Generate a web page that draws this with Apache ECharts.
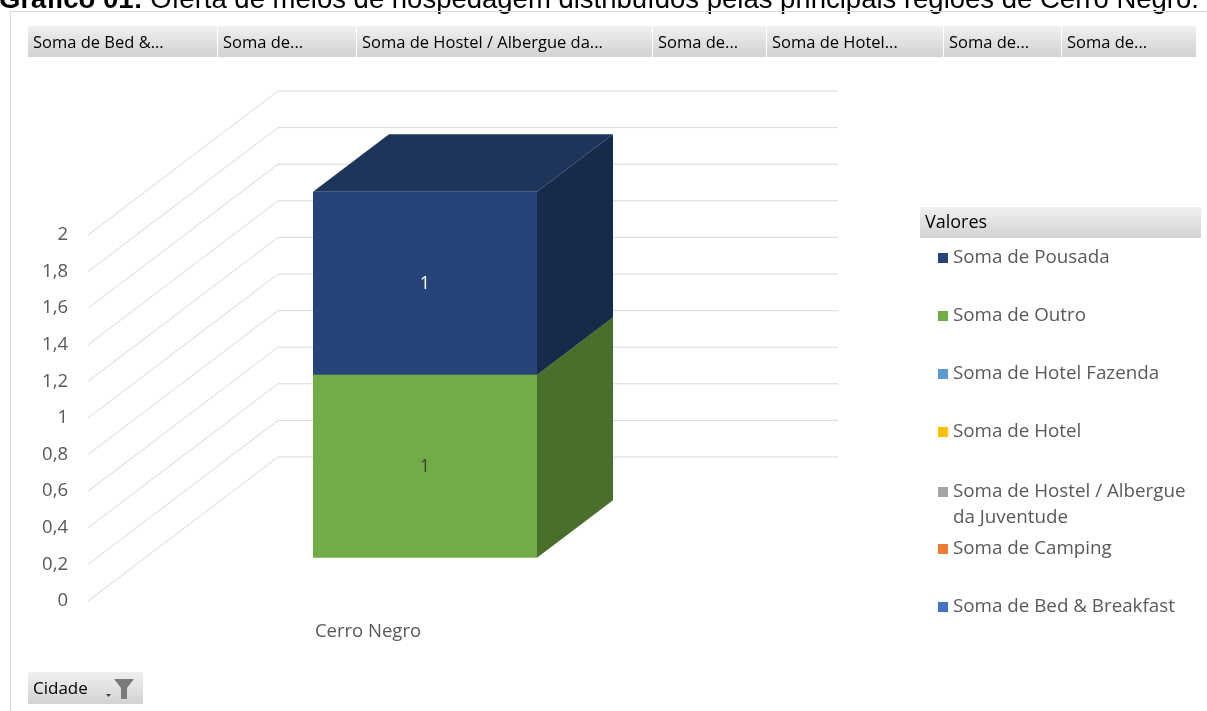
<!DOCTYPE html>
<html>
<head>
<meta charset="utf-8">
<title>Cerro Negro</title>
<script src="https://cdn.jsdelivr.net/npm/echarts@6/dist/echarts.min.js"></script>
<style>
  html, body { margin: 0; padding: 0; background: #fff; }
  #chart { width: 1207px; height: 711px; }
</style>
</head>
<body>
<div id="chart"></div>
<script>
// --- data ---
const categories = ['Cerro Negro']
const bedBreakfast = [null]
const camping = [null]
const hostel = [null]
const hotel = [null]
const hotelFazenda = [null]
const outro = [1]
const pousada = [1]
const yTicks = [0, 0.2, 0.4, 0.6, 0.8, 1, 1.2, 1.4, 1.6, 1.8, 2]
const fieldButtons = ['Soma de Bed &...', 'Soma de...', 'Soma de Hostel / Albergue da...', 'Soma de...', 'Soma de Hotel...', 'Soma de...', 'Soma de...']

const TITLE_BOLD = 'Gráfico 01:'
const TITLE_TEXT = ' Oferta de meios de hospedagem distribuídos pelas principais regiões de Cerro Negro.'

// series in stacking order (bottom first)
const seriesDefs = [
  { name: 'Soma de Bed & Breakfast', values: bedBreakfast, color: '#4472C4' },
  { name: 'Soma de Camping', values: camping, color: '#ED7D31' },
  { name: 'Soma de Hostel / Albergue da Juventude', values: hostel, color: '#A5A5A5' },
  { name: 'Soma de Hotel', values: hotel, color: '#FFC000' },
  { name: 'Soma de Hotel Fazenda', values: hotelFazenda, color: '#5B9BD5' },
  { name: 'Soma de Outro', values: outro, color: '#70AD47', top: '#5a8a39', side: '#4a6f2c', label: '#404040' },
  { name: 'Soma de Pousada', values: pousada, color: '#264478', top: '#1d345b', side: '#182a4a', label: '#ffffff' }
]

// fake 3d: depth vector from the label plane to the back wall
const DEPTH = [190, -144]
const BAR_FRONT = 0.3
const BAR_BACK = 0.7
const BAR_RATIO = 0.4

const FONT = "'Open Sans', 'Noto Sans', sans-serif"
const TEXT_GREY = '#595959'

const chart = echarts.init(document.getElementById('chart'))

const renderBar = (def) => (params, api) => {
  const val = api.value(1)
  if (!val) return null
  const cat = api.value(0)
  const base = api.value(2)
  const lo = api.coord([cat, base])
  const hi = api.coord([cat, base + val])
  const half = api.size([1, 0])[0] * BAR_RATIO / 2
  const f = [DEPTH[0] * BAR_FRONT, DEPTH[1] * BAR_FRONT]
  const b = [DEPTH[0] * BAR_BACK, DEPTH[1] * BAR_BACK]
  const xl = lo[0] - half
  const xr = lo[0] + half

  const front = [[xl + f[0], hi[1] + f[1]], [xr + f[0], hi[1] + f[1]], [xr + f[0], lo[1] + f[1]], [xl + f[0], lo[1] + f[1]]]
  const top = [[xl + f[0], hi[1] + f[1]], [xl + b[0], hi[1] + b[1]], [xr + b[0], hi[1] + b[1]], [xr + f[0], hi[1] + f[1]]]
  const side = [[xr + f[0], hi[1] + f[1]], [xr + b[0], hi[1] + b[1]], [xr + b[0], lo[1] + b[1]], [xr + f[0], lo[1] + f[1]]]

  return {
    type: 'group',
    children: [
      { type: 'polygon', shape: { points: side }, style: { fill: def.side || def.color } },
      { type: 'polygon', shape: { points: top }, style: { fill: def.top || def.color } },
      { type: 'polygon', shape: { points: front }, style: { fill: def.color } },
      {
        type: 'text',
        x: lo[0] + f[0],
        y: (lo[1] + hi[1]) / 2 + f[1] + 1,
        style: {
          text: String(val),
          fill: def.label || '#404040',
          font: '18px ' + FONT,
          align: 'center',
          verticalAlign: 'middle'
        }
      }
    ]
  }
}

// stack values by category
const stackBase = categories.map(() => 0)
const barSeries = seriesDefs.map(def => {
  const data = def.values.map((v, j) => {
    const base = stackBase[j]
    if (v) stackBase[j] += v
    return [j, v, base]
  })
  return {
    name: def.name,
    type: 'custom',
    renderItem: renderBar(def),
    itemStyle: { color: def.color },
    encode: { x: 0, y: 1 },
    data: data,
    z: 3
  }
})

const wallSeries = {
  name: 'wall',
  type: 'custom',
  silent: true,
  z: 1,
  encode: { x: 0, y: 1 },
  data: yTicks.map(v => [0, v]),
  renderItem: (params, api) => {
    const p = api.coord([0, api.value(1)])
    const cs = params.coordSys
    return {
      type: 'polyline',
      shape: {
        points: [
          [cs.x, p[1]],
          [cs.x + DEPTH[0], p[1] + DEPTH[1]],
          [cs.x + cs.width + DEPTH[0], p[1] + DEPTH[1]]
        ]
      },
      style: { stroke: '#d9d9d9', lineWidth: 1, fill: null }
    }
  }
}

const buttonGradient = () => new echarts.graphic.LinearGradient(0, 0, 0, 1, [
  { offset: 0, color: '#f0f0f0' },
  { offset: 1, color: '#d2d2d2' }
])

// field buttons across the top
const buttonEdges = [28, 218, 357, 653, 767, 944, 1062, 1197]
const buttonGraphics = []
fieldButtons.forEach((label, i) => {
  buttonGraphics.push({
    type: 'rect',
    shape: { x: buttonEdges[i], y: 26, width: buttonEdges[i + 1] - buttonEdges[i] - 1, height: 31 },
    style: { fill: buttonGradient() }
  })
  buttonGraphics.push({
    type: 'text',
    x: buttonEdges[i] + 5,
    y: 43,
    style: { text: label, font: '16.5px ' + FONT, fill: '#000', verticalAlign: 'middle' }
  })
})

const legendText = { color: TEXT_GREY, fontSize: 18.8, fontFamily: FONT, lineHeight: 20 }
const legendBase = {
  orient: 'vertical',
  left: 933,
  icon: 'rect',
  itemWidth: 10,
  itemHeight: 10,
  itemGap: 38,
  selectedMode: false,
  textStyle: legendText
}

const option = {
  animation: false,
  backgroundColor: '#fff',
  grid: { left: 88, right: 559, top: 235, bottom: 110 },
  xAxis: {
    type: 'category',
    data: categories,
    axisLine: { show: false },
    axisTick: { show: false },
    axisLabel: { color: TEXT_GREY, fontSize: 18.5, fontFamily: FONT, margin: 21 }
  },
  yAxis: {
    type: 'value',
    min: 0,
    max: 2,
    interval: 0.2,
    axisLine: { show: false },
    axisTick: { show: false },
    splitLine: { show: false },
    axisLabel: {
      color: TEXT_GREY,
      fontSize: 18.5,
      fontFamily: FONT,
      margin: 20,
      padding: [4, 0, 0, 0],
      formatter: v => String(Math.round(v * 10) / 10).replace('.', ',')
    }
  },
  legend: [
    Object.assign({}, legendBase, {
      top: 243,
      data: ['Soma de Pousada', 'Soma de Outro', 'Soma de Hotel Fazenda', 'Soma de Hotel']
    }),
    // blank first line keeps the marker level with the first line of text
    Object.assign({}, legendBase, {
      top: 448,
      data: ['Soma de Hostel / Albergue da Juventude'],
      formatter: () => ' \nSoma de Hostel / Albergue\nda Juventude',
      textStyle: Object.assign({}, legendText, { lineHeight: 26 })
    }),
    Object.assign({}, legendBase, {
      top: 534,
      data: ['Soma de Camping', 'Soma de Bed & Breakfast']
    })
  ],
  graphic: [
    {
      type: 'text',
      x: -1,
      y: 0,
      style: {
        text: '{b|' + TITLE_BOLD + '}' + TITLE_TEXT,
        font: "27.5px 'Liberation Sans', Arial, sans-serif",
        fill: '#000',
        verticalAlign: 'middle',
        rich: {
          b: { font: "bold 27.5px 'Liberation Sans', Arial, sans-serif", fill: '#000' }
        }
      }
    },
    { type: 'line', shape: { x1: 10.5, y1: 11, x2: 10.5, y2: 711 }, style: { stroke: '#d9d9d9', lineWidth: 1 } },
    { type: 'line', shape: { x1: 10, y1: 11.5, x2: 1207, y2: 11.5 }, style: { stroke: '#d9d9d9', lineWidth: 1 } },
    ...buttonGraphics,
    {
      type: 'rect',
      shape: { x: 920, y: 207, width: 281, height: 31 },
      style: { fill: buttonGradient() }
    },
    {
      type: 'text',
      x: 925,
      y: 223,
      style: { text: 'Valores', font: '18px ' + FONT, fill: '#000', verticalAlign: 'middle' }
    },
    {
      type: 'rect',
      shape: { x: 28, y: 672, width: 115, height: 32 },
      style: { fill: buttonGradient() }
    },
    {
      type: 'text',
      x: 33,
      y: 689,
      style: { text: 'Cidade', font: '17px ' + FONT, fill: '#000', verticalAlign: 'middle' }
    },
    {
      type: 'polygon',
      shape: { points: [[106, 694], [111, 694], [108.5, 697]] },
      style: { fill: '#404040' }
    },
    {
      type: 'polygon',
      shape: { points: [[114, 679], [134, 679], [127, 688], [127, 699], [121, 699], [121, 688]] },
      style: { fill: '#7a7a7a' }
    }
  ],
  series: [wallSeries, ...barSeries]
}

chart.setOption(option)
</script>
</body>
</html>
